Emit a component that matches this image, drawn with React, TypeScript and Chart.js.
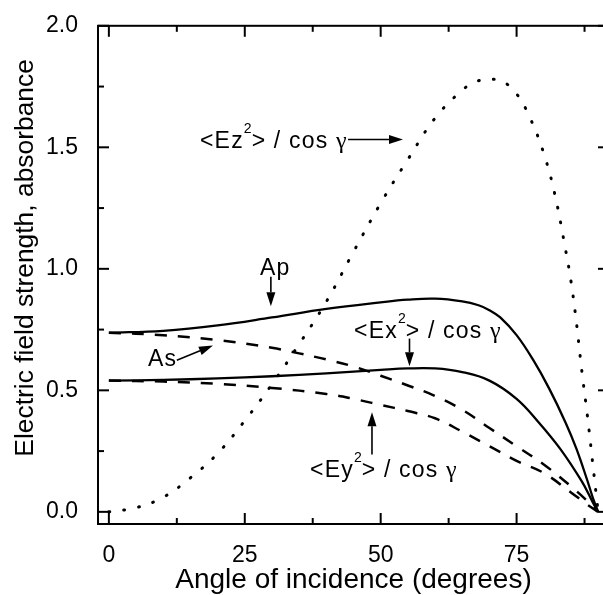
import React, { useEffect, useRef } from "react";
import { Chart, registerables } from "chart.js";

Chart.register(...registerables);

// ---- Data (angle of incidence in degrees, values) ----
const apAngles = [0, 10, 20, 30, 40, 50, 55, 60, 65, 68, 70, 72, 75, 78, 81, 84, 86, 88, 89, 90];
const apValues = [0.737, 0.745, 0.767, 0.8, 0.835, 0.862, 0.873, 0.877, 0.866, 0.85, 0.83, 0.8, 0.727, 0.627, 0.507, 0.368, 0.26, 0.13, 0.06, 0];

const exAngles = [0, 10, 20, 30, 40, 50, 55, 60, 65, 70, 75, 79, 83, 87, 89, 90];
const exValues = [0.54, 0.543, 0.549, 0.558, 0.57, 0.584, 0.59, 0.59, 0.575, 0.54, 0.465, 0.37, 0.26, 0.125, 0.04, 0];

const asAngles = [0, 10, 20, 30, 35, 40, 45, 50, 55, 60, 65, 70, 75, 80, 85, 88, 90];
const asValues = [0.737, 0.727, 0.707, 0.675, 0.652, 0.627, 0.598, 0.56, 0.52, 0.477, 0.42, 0.345, 0.27, 0.195, 0.105, 0.045, 0];

const eyAngles = [0, 10, 20, 30, 40, 45, 50, 55, 60, 65, 70, 75, 80, 85, 88, 90];
const eyValues = [0.54, 0.536, 0.527, 0.51, 0.485, 0.465, 0.44, 0.415, 0.385, 0.33, 0.27, 0.21, 0.16, 0.08, 0.03, 0];

const ezAngles = [0, 5, 10, 15, 20, 25, 30, 35, 40, 45, 50, 55, 60, 65, 67.5, 70, 72.5, 75, 77.5, 80, 82, 84, 85, 86, 87, 88, 89, 90];
const ezValues = [0, 0.017, 0.06, 0.14, 0.24, 0.375, 0.525, 0.69, 0.865, 1.07, 1.27, 1.45, 1.62, 1.735, 1.77, 1.78, 1.77, 1.72, 1.62, 1.475, 1.31, 1.08, 0.95, 0.78, 0.58, 0.4, 0.2, 0];

// ---- Axes ----
const xMajorTicks = [0, 25, 50, 75];
const xMinorTicks = [12.5, 37.5, 62.5, 87.5];
const yMajorTicks = [0, 0.5, 1.0, 1.5, 2.0];
const yMinorTicks = [0.25, 0.75, 1.25, 1.75];
const xTitle = "Angle of incidence (degrees)";
const yTitle = "Electric field strength, absorbance";

// ---- Annotations: [label parts], anchor (angle, value) of the text baseline-left ----
type Part = { t: string; kind: "main" | "sup" | "greek" };
const ezLabel: Part[] = [
  { t: "<Ez", kind: "main" }, { t: "2", kind: "sup" }, { t: "> / cos ", kind: "main" }, { t: "γ", kind: "greek" },
];
const exLabel: Part[] = [
  { t: "<Ex", kind: "main" }, { t: "2", kind: "sup" }, { t: "> / cos ", kind: "main" }, { t: "γ", kind: "greek" },
];
const eyLabel: Part[] = [
  { t: "<Ey", kind: "main" }, { t: "2", kind: "sup" }, { t: "> / cos ", kind: "main" }, { t: "γ", kind: "greek" },
];
const apLabel: Part[] = [{ t: "Ap", kind: "main" }];
const asLabel: Part[] = [{ t: "As", kind: "main" }];

const labels = [
  { parts: ezLabel, at: [16.76, 1.496] },
  { parts: apLabel, at: [27.8, 0.975] },
  { parts: asLabel, at: [7.2, 0.6] },
  { parts: exLabel, at: [45.1, 0.717] },
  { parts: eyLabel, at: [37.0, 0.143] },
];
// arrows: from (angle, value) to (angle, value)
const arrows = [
  { from: [44.0, 1.532], to: [54.1, 1.532] },
  { from: [29.8, 0.967], to: [29.8, 0.846] },
  { from: [12.5, 0.624], to: [19.15, 0.684] },
  { from: [55.3, 0.713], to: [55.3, 0.599] },
  { from: [48.4, 0.236], to: [48.4, 0.41] },
];

const toPoints = (xs: number[], ys: number[]) => xs.map((x, i) => ({ x, y: ys[i] }));

const SANS = "'Liberation Sans', Arial, Helvetica, sans-serif";
const SERIF = "'Liberation Serif', 'Times New Roman', serif";

function drawArrow(ctx: CanvasRenderingContext2D, x1: number, y1: number, x2: number, y2: number) {
  const head = 14;
  const hw = 4.5;
  const ang = Math.atan2(y2 - y1, x2 - x1);
  const bx = x2 - head * Math.cos(ang);
  const by = y2 - head * Math.sin(ang);
  ctx.beginPath();
  ctx.moveTo(x1, y1);
  ctx.lineTo(bx, by);
  ctx.lineWidth = 1.6;
  ctx.stroke();
  ctx.beginPath();
  ctx.moveTo(x2, y2);
  ctx.lineTo(bx + hw * Math.sin(ang), by - hw * Math.cos(ang));
  ctx.lineTo(bx - hw * Math.sin(ang), by + hw * Math.cos(ang));
  ctx.closePath();
  ctx.fill();
}

const framePlugin = {
  id: "frameAndNotes",
  afterDatasetsDraw(chart: any) {
    const { ctx, chartArea: a, scales } = chart;
    const xs = scales.x;
    const ys = scales.y;
    ctx.save();
    ctx.strokeStyle = "#000";
    ctx.fillStyle = "#000";
    ctx.lineWidth = 2;
    ctx.lineCap = "butt";
    ctx.strokeRect(a.left, a.top, a.right - a.left, a.bottom - a.top);

    const seg = (x1: number, y1: number, x2: number, y2: number) => {
      ctx.beginPath();
      ctx.moveTo(x1, y1);
      ctx.lineTo(x2, y2);
      ctx.stroke();
    };
    const MAJ = 11;
    const MIN = 6;
    for (const v of xMajorTicks) {
      const p = xs.getPixelForValue(v);
      seg(p, a.bottom, p, a.bottom - MAJ);
      seg(p, a.top, p, a.top + MAJ);
    }
    for (const v of xMinorTicks) {
      const p = xs.getPixelForValue(v);
      seg(p, a.bottom, p, a.bottom - MIN);
      seg(p, a.top, p, a.top + MIN);
    }
    for (const v of yMajorTicks) {
      const p = ys.getPixelForValue(v);
      seg(a.left, p, a.left + MAJ, p);
      seg(a.right, p, a.right - MAJ, p);
    }
    for (const v of yMinorTicks) {
      const p = ys.getPixelForValue(v);
      seg(a.left, p, a.left + MIN, p);
      seg(a.right, p, a.right - MIN, p);
    }

    // annotation labels
    ctx.textBaseline = "alphabetic";
    ctx.textAlign = "left";
    for (const lab of labels) {
      let px = xs.getPixelForValue(lab.at[0]);
      const py = ys.getPixelForValue(lab.at[1]);
      for (const part of lab.parts) {
        let dy = 0;
        if (part.kind === "main") {
          ctx.font = `23px ${SANS}`;
        } else if (part.kind === "sup") {
          ctx.font = `14px ${SANS}`;
          dy = -15;
        } else {
          ctx.font = `24px ${SERIF}`;
        }
        (ctx as any).letterSpacing = part.kind === "main" ? "1.2px" : "0px";
        ctx.fillText(part.t, px, py + dy);
        px += ctx.measureText(part.t).width;
      }
    }
    (ctx as any).letterSpacing = "0px";

    for (const ar of arrows) {
      drawArrow(
        ctx,
        xs.getPixelForValue(ar.from[0]),
        ys.getPixelForValue(ar.from[1]),
        xs.getPixelForValue(ar.to[0]),
        ys.getPixelForValue(ar.to[1])
      );
    }

    // axis titles
    ctx.font = `28px ${SANS}`;
    ctx.textAlign = "center";
    ctx.textBaseline = "alphabetic";
    ctx.fillText(xTitle, (a.left + a.right) / 2, 588);

    ctx.save();
    ctx.font = `26.4px ${SANS}`;
    ctx.translate(33, (a.top + a.bottom) / 2 - 17);
    ctx.rotate(-Math.PI / 2);
    ctx.fillText(yTitle, 0, 0);
    ctx.restore();

    ctx.restore();
  },
};

export default function App() {
  const ref = useRef<HTMLCanvasElement>(null);
  useEffect(() => {
    const solid = { borderColor: "#000", borderWidth: 2.3, pointRadius: 0, fill: false, tension: 0.4 };
    const chart = new Chart(ref.current!, {
      type: "line",
      data: {
        datasets: [
          { label: "Ap", data: toPoints(apAngles, apValues), ...solid },
          { label: "<Ex2>/cos", data: toPoints(exAngles, exValues), ...solid },
          { label: "As", data: toPoints(asAngles, asValues), ...solid, borderWidth: 2.5, borderDash: [12, 11] },
          { label: "<Ey2>/cos", data: toPoints(eyAngles, eyValues), ...solid, borderWidth: 2.5, borderDash: [12, 11] },
          {
            label: "<Ez2>/cos",
            data: toPoints(ezAngles, ezValues),
            ...solid,
            borderWidth: 3,
            borderDash: [0.8, 14.2],
            borderCapStyle: "round",
          },
        ],
      },
      options: {
        responsive: false,
        devicePixelRatio: 1,
        animation: false,
        events: [],
        layout: { padding: { top: 16, right: 11, left: 0, bottom: 0 } },
        plugins: { legend: { display: false }, tooltip: { enabled: false }, title: { display: false } },
        scales: {
          x: {
            type: "linear",
            min: -2,
            max: 92,
            afterBuildTicks: (s: any) => {
              s.ticks = xMajorTicks.map((v) => ({ value: v }));
            },
            afterFit: (s: any) => {
              s.height = 71;
            },
            grid: { display: false },
            border: { display: false },
            ticks: {
              color: "#000",
              padding: 10,
              maxRotation: 0,
              autoSkip: false,
              font: { family: SANS, size: 23 },
              callback: (v: any) => String(v),
            },
          },
          y: {
            type: "linear",
            min: -0.05,
            max: 2.0,
            afterBuildTicks: (s: any) => {
              s.ticks = yMajorTicks.map((v) => ({ value: v }));
            },
            afterFit: (s: any) => {
              s.width = 98;
            },
            grid: { display: false },
            border: { display: false },
            ticks: {
              color: "#000",
              padding: 12,
              autoSkip: false,
              font: { family: SANS, size: 23 },
              callback: (v: any) => Number(v).toFixed(1),
            },
          },
        },
      },
      plugins: [framePlugin],
    } as any);
    return () => chart.destroy();
  }, []);
  return (
    <div style={{ position: "fixed", left: 0, top: 0, width: 603, height: 595, overflow: "hidden", background: "#fff" }}>
      <canvas ref={ref} width={620} height={595} style={{ display: "block", width: 620, height: 595 }} />
    </div>
  );
}
